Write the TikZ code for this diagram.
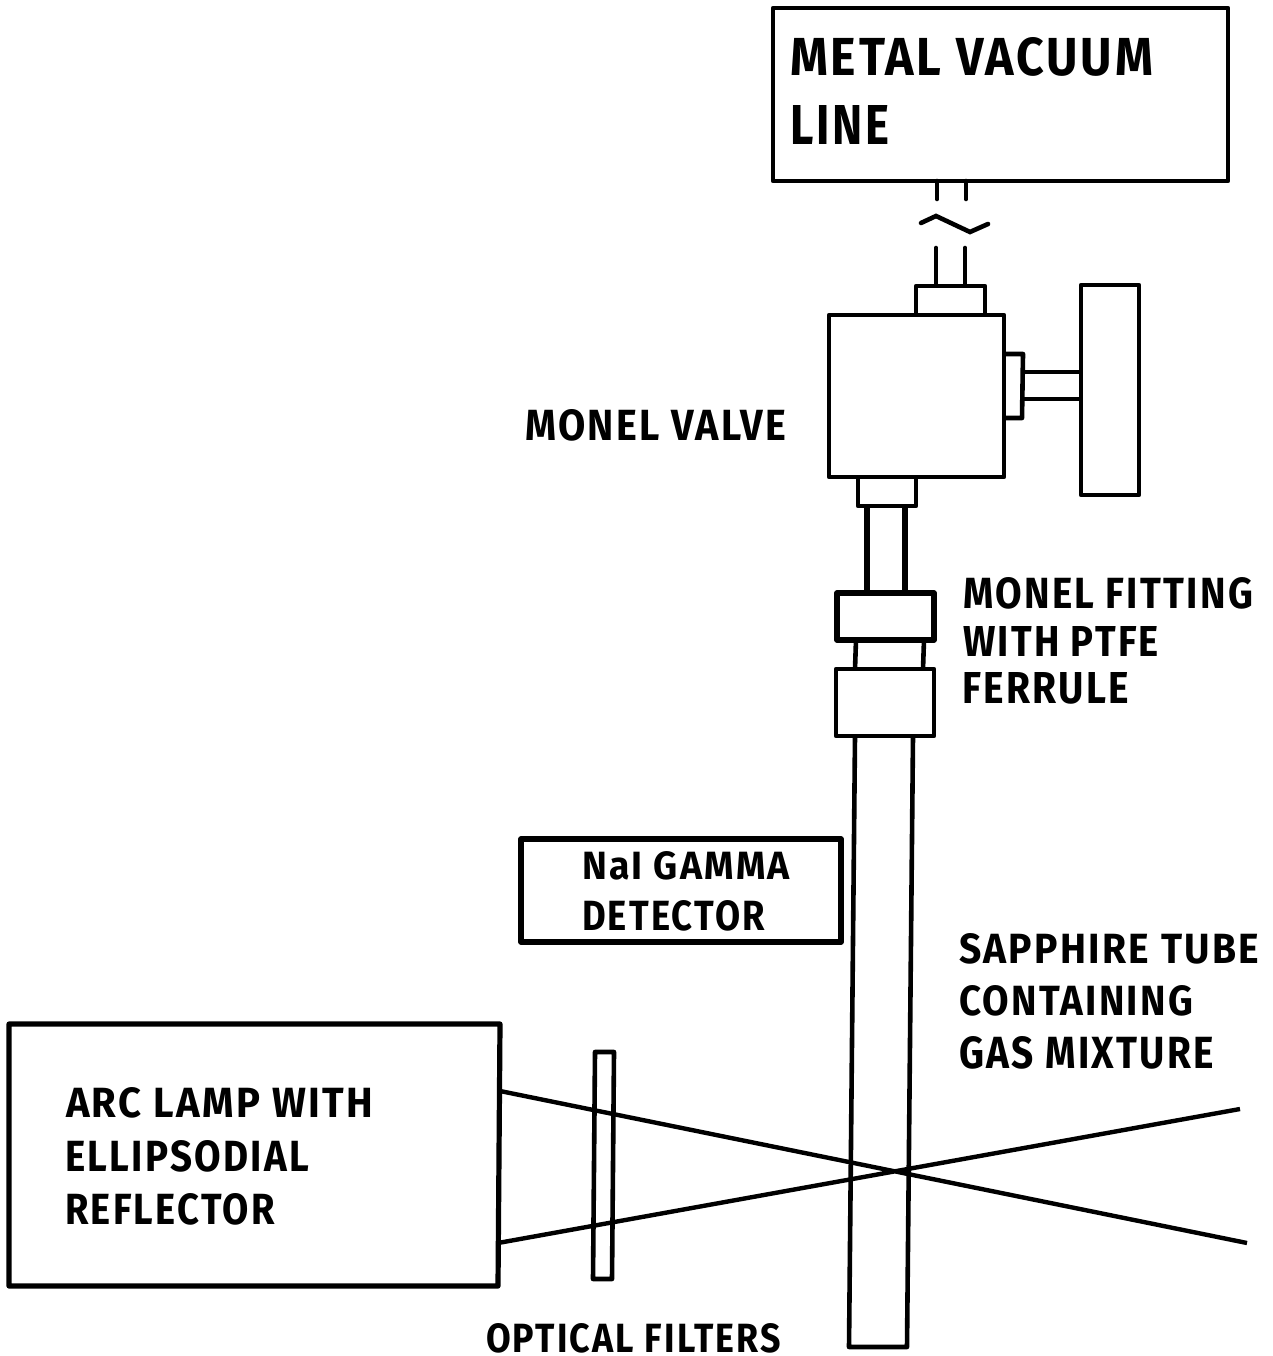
\documentclass[tikz,border=0pt]{standalone}
\usepackage{fontspec}
\usepackage{graphicx}
\setmainfont[LetterSpace=6]{Fira Sans}
\newcommand{\lbl}[6]{%
  \pgfmathsetlengthmacro{\lblw}{(#4-#2)*1pt}%
  \pgfmathsetlengthmacro{\lblh}{(#5-#3)*1pt}%
  \node[lbl] (#1) at (#2,#5) {\resizebox{\lblw}{\lblh}{\bfseries #6}};}
\begin{document}
\begin{tikzpicture}[x=1pt,y=-1pt,
  lbl/.style={anchor=south west,inner sep=0pt,outer sep=0pt,text=black},
  part/.style={draw=black,line width=4.6pt,line join=round},
  thick part/.style={part,line width=5.2pt},
  beam/.style={draw=black,line width=4.4pt},
  pipe/.style={draw=black,line width=4.6pt,line cap=round}]
\useasboundingbox (0,0) rectangle (1273,1356);
\fill[white] (0,0) rectangle (1273,1356);
% vacuum line
\path[part] (773,8) rectangle (1228,181);
\coordinate (pa) at (937,181); \coordinate (pb) at (966,181);
\coordinate (pc) at (937,199); \coordinate (pd) at (966,199);
\coordinate (pe) at (936,248); \coordinate (pf) at (965,248);
\coordinate (pg) at (936,285); \coordinate (ph) at (965,285);
\path[pipe] (pa) -- (pc) (pb) -- (pd) (pe) -- (pg) (pf) -- (ph);
\path[pipe] (921,223) -- (936,216) -- (970,232) -- (988,224);
% valve
\path[part] (916,314) -- (916,286) -- (985,286) -- (985,314);
\path[part] (829,315) rectangle (1004,477);
\path[part] (1004,354) -- (1023,354) -- (1022,418) -- (1004,418);
\path[part] (1023,372) -- (1081,372) (1023,399) -- (1081,399);
\path[part] (1081,285) rectangle (1139,495);
\path[part] (858,477) -- (858,506) -- (916,506) -- (916,477);
\path[thick part] (867,506) -- (867,592) (905,506) -- (905,592);
% fittings
\path[thick part] (837,593) rectangle (934,640);
\path[part] (856,640) -- (855,669) (924,640) -- (923,669);
\path[part] (836,669) rectangle (934,736);
% sapphire tube
\path[part] (855,736) -- (849,1347) -- (907,1347) -- (913,736);
% lamp
\path[thick part] (9,1024) -- (500,1024) -- (498,1286) -- (9,1286) -- cycle;
% detector
\path[thick part] (521,839) rectangle (841,942);
% filter
\path[part] (595,1052) -- (614,1052) -- (612,1279) -- (593,1279) -- cycle;
% light cone
\coordinate (la) at (500,1091); \coordinate (lb) at (1247,1243);
\coordinate (lc) at (498,1243); \coordinate (ld) at (1240,1109);
\path[beam] (la) -- (lb) (lc) -- (ld);
% labels
\lbl{t1}{790}{38}{1153}{76}{METAL VACUUM}
\lbl{t2}{790}{106}{889}{145}{LINE}
\lbl{t3}{525}{410}{786}{441}{MONEL VALVE}
\lbl{t4}{963}{578}{1253}{609}{MONEL FITTING}
\lbl{t5}{963}{626}{1159}{656}{WITH PTFE}
\lbl{t6}{962}{673}{1129}{704}{FERRULE}
\lbl{t7}{582}{852}{790}{880}{NaI GAMMA}
\lbl{t8}{582}{901}{765}{931}{DETECTOR}
\lbl{t9}{959}{934}{1259}{964}{SAPPHIRE TUBE}
\lbl{t10}{959}{986}{1193}{1016}{CONTAINING}
\lbl{t11}{959}{1037}{1214}{1069}{GAS MIXTURE}
\lbl{t12}{66}{1088}{373}{1118}{ARC LAMP WITH}
\lbl{t13}{65}{1141}{309}{1172}{ELLIPSODIAL}
\lbl{t14}{65}{1194}{275}{1225}{REFLECTOR}
\lbl{t15}{486}{1324}{781}{1353}{OPTICAL FILTERS}
\end{tikzpicture}
\end{document}
